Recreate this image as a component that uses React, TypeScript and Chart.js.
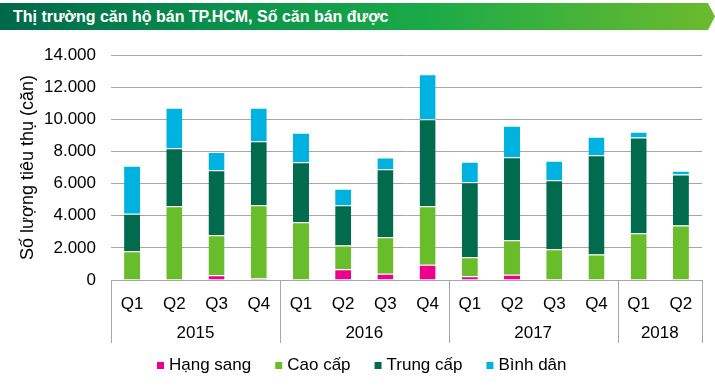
import React, { useEffect, useRef } from 'react';
import { Chart, registerables } from 'chart.js';
Chart.register(...registerables);

const quarters = ['Q1', 'Q2', 'Q3', 'Q4', 'Q1', 'Q2', 'Q3', 'Q4', 'Q1', 'Q2', 'Q3', 'Q4', 'Q1', 'Q2'];
const years = ['2015', '2016', '2017', '2018'];
const yearSpans = [4, 4, 4, 2];
const hangSang = [0, 0, 290, 100, 0, 665, 395, 955, 228, 332, 0, 0, 0, 0];
const caoCap = [1790, 4590, 2490, 4550, 3590, 1475, 2265, 3635, 1185, 2140, 1910, 1580, 2910, 3390];
const trungCap = [2325, 3615, 4050, 3990, 3740, 2515, 4235, 5420, 4675, 5170, 4300, 6190, 5960, 3175];
const binhDan = [2990, 2515, 1140, 2075, 1830, 1020, 725, 2785, 1265, 1955, 1205, 1140, 355, 230];
const seriesNames = ['Hạng sang', 'Cao cấp', 'Trung cấp', 'Bình dân'];
const seriesColors = ['#EC008C', '#6ABD2A', '#006B4D', '#00B2E0'];
const yMax = 14000;
const yStep = 2000;
const titleText = 'Thị trường căn hộ bán TP.HCM, Số căn bán được';
const yTitle = 'Số lượng tiêu thụ (căn)';

const FONT = "'Liberation Sans', Arial, sans-serif";
const GRID = '#A6A6A6';

const yearAxisPlugin = {
  id: 'yearAxis',
  afterDraw(chart: any) {
    const { ctx, chartArea } = chart;
    const xs = chart.scales.x;
    const n = quarters.length;
    const w = (xs.right - xs.left) / n;
    const top = chartArea.bottom;
    const bottom = top + 63;
    ctx.save();
    ctx.strokeStyle = GRID;
    ctx.lineWidth = 1;
    let idx = 0;
    const bounds = [0];
    yearSpans.forEach((s) => { idx += s; bounds.push(idx); });
    bounds.forEach((b) => {
      const x = Math.round(xs.left + b * w) + 0.5;
      ctx.beginPath();
      ctx.moveTo(x, top);
      ctx.lineTo(x, bottom);
      ctx.stroke();
    });
    ctx.fillStyle = '#000';
    ctx.font = `17px ${FONT}`;
    ctx.textAlign = 'center';
    ctx.textBaseline = 'middle';
    years.forEach((y, i) => {
      const cx = xs.left + ((bounds[i] + bounds[i + 1]) / 2) * w;
      ctx.fillText(y, cx, top + 53);
    });

    // legend
    const datasets = chart.data.datasets;
    ctx.font = `17px ${FONT}`;
    ctx.textAlign = 'left';
    const box = 7;
    const gap = 5;
    const spacing = 24;
    const widths = datasets.map((d: any) => ctx.measureText(d.label).width);
    const total = widths.reduce((a: number, b: number) => a + b, 0) + datasets.length * (box + gap) + (datasets.length - 1) * spacing;
    let x = Math.round(362 - total / 2);
    const ly = bottom + 22;
    datasets.forEach((d: any, i: number) => {
      ctx.fillStyle = d.backgroundColor;
      ctx.fillRect(x, ly - 3, box, box);
      x += box + gap;
      ctx.fillStyle = '#000';
      ctx.fillText(d.label, x, ly);
      x += widths[i] + spacing;
    });
    ctx.restore();
  },
};

function ChartView() {
  const ref = useRef<HTMLCanvasElement>(null);
  useEffect(() => {
    if (!ref.current) return;
    const data = [hangSang, caoCap, trungCap, binhDan];
    const chart = new Chart(ref.current, {
      type: 'bar',
      data: {
        labels: quarters,
        datasets: data.map((d, i) => ({
          label: seriesNames[i],
          data: d,
          backgroundColor: seriesColors[i],
          borderColor: '#ffffff',
          borderWidth: (c: any) => (c.raw === 0 ? 0 : { top: 1, left: 0, right: 0, bottom: 0 }),
          borderSkipped: false,
          barPercentage: 0.38,
          categoryPercentage: 1,
        })),
      },
      plugins: [yearAxisPlugin],
      options: {
        responsive: false,
        animation: false,
        layout: { padding: { left: 0, right: 13, top: 55, bottom: 44 } },
        plugins: {
          legend: { display: false },
          tooltip: { enabled: false },
        },
        scales: {
          x: {
            stacked: true,
            grid: { display: false },
            border: { display: true, color: GRID, width: 1 },
            ticks: { color: '#000', font: { family: FONT, size: 17 }, padding: 6, maxRotation: 0, autoSkip: false },
            afterFit: (s: any) => { s.height = 63; },
          },
          y: {
            stacked: true,
            min: 0,
            max: yMax,
            grid: { color: GRID, drawTicks: false, lineWidth: 1 },
            border: { display: false },
            ticks: {
              stepSize: yStep,
              padding: 15,
              color: '#000',
              font: { family: FONT, size: 17 },
              callback: (v: any) => Number(v).toLocaleString('de-DE'),
            },
            title: {
              display: true,
              text: yTitle,
              color: '#000',
              font: { family: FONT, size: 18 },
              padding: { top: 17, bottom: 0 },
            },
            afterFit: (s: any) => { s.width = 111; },
          },
        },
      },
    } as any);
    return () => chart.destroy();
  }, []);
  return <canvas ref={ref} width={715} height={387} style={{ display: 'block' }} />;
}

export default function App() {
  return (
    <div style={{ position: 'absolute', left: 0, top: 0, width: 715, height: 387, background: '#fff' }}>
      <ChartView />
      <div
        style={{
          position: 'absolute',
          left: 0,
          top: 3,
          width: 715,
          height: 27,
          background: 'linear-gradient(90deg, #00684A 0%, #0B954C 35%, #1BAA48 60%, #6CBB2C 100%)',
          clipPath: 'polygon(0 0, 708px 0, 715px 13.5px, 708px 27px, 0 27px)',
          color: '#fff',
          fontFamily: FONT,
          fontWeight: 'bold',
          fontSize: 16,
          lineHeight: '27px',
          paddingLeft: 13,
          boxSizing: 'border-box',
          whiteSpace: 'nowrap',
        }}
      >
        {titleText}
      </div>
    </div>
  );
}
